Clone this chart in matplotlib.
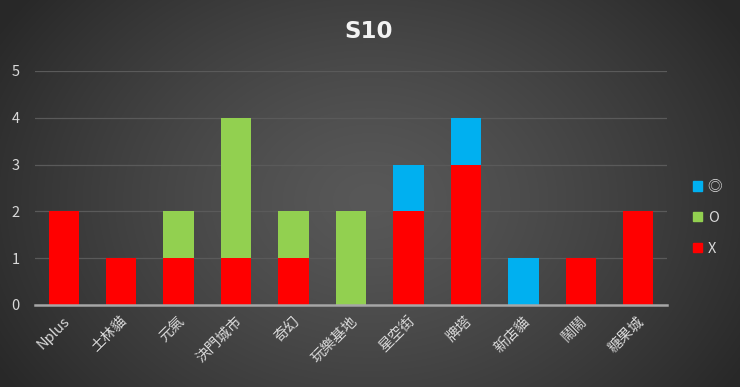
import numpy as np
import matplotlib
matplotlib.use("Agg")
import matplotlib.pyplot as plt
from matplotlib.patches import Patch

plt.rcParams['font.family'] = ['Noto Sans CJK TC', 'DejaVu Sans']

categories = ["Nplus", "土林貓", "元氣", "決門城市", "奇幻", "玩樂基地",
              "星空街", "牌塔", "新店貓", "鬧鬧", "糖果城"]
x_vals = [2, 1, 1, 1, 1, 0, 2, 3, 0, 1, 2]
o_vals = [0, 0, 1, 3, 1, 2, 0, 0, 0, 0, 0]
dbl_vals = [0, 0, 0, 0, 0, 0, 1, 1, 1, 0, 0]
series_names = ["X", "O", "◎"]
colors = ["#FF0000", "#92D050", "#00B0F0"]
title = "S10"

W, H = 740, 387
fig = plt.figure(figsize=(W / 100, H / 100), dpi=100)

# radial gradient background
bg = fig.add_axes([0, 0, 1, 1], zorder=-10)
yy, xx = np.mgrid[0:H, 0:W]
cx, cy = 370, 200
r = np.sqrt(((xx - cx) / 430.0) ** 2 + ((yy - cy) / 330.0) ** 2)
r = np.clip(r, 0, 1)
val = 0.345 - (0.345 - 0.16) * r ** 1.3
img = np.dstack([val, val, val])
bg.imshow(img, aspect='auto', extent=[0, 1, 0, 1], origin='upper')
bg.axis('off')

ax = fig.add_axes([35 / W, 1 - 305 / H, (667 - 35) / W, (305 - 71) / H])
ax.set_facecolor('none')

idx = np.arange(len(categories))
bw = 0.53
ax.bar(idx, x_vals, bw, color=colors[0], zorder=3)
ax.bar(idx, o_vals, bw, bottom=x_vals, color=colors[1], zorder=3)
bottom2 = np.array(x_vals) + np.array(o_vals)
ax.bar(idx, dbl_vals, bw, bottom=bottom2, color=colors[2], zorder=3)

ax.set_xlim(-0.5, len(categories) - 0.5)
ax.set_ylim(0, 5)
ax.set_yticks(range(0, 6))
ax.yaxis.grid(True, color='#5a5a5a', linewidth=0.9, zorder=0)
ax.set_axisbelow(True)
for s in ['top', 'right', 'left']:
    ax.spines[s].set_visible(False)
ax.spines['bottom'].set_color('#a6a6a6')
ax.spines['bottom'].set_linewidth(1.8)
ax.spines['bottom'].set_zorder(4)
ax.tick_params(axis='both', length=0, colors='#d9d9d9', labelsize=10.5)
ax.tick_params(axis='y', pad=11)
ax.set_xticks(idx)
ax.set_xticklabels(categories, rotation=45, ha='right', va='top',
                   rotation_mode='anchor', color='#d9d9d9', fontsize=10.5)
for lbl in ax.get_xticklabels():
    lbl.set_transform(lbl.get_transform() + matplotlib.transforms.ScaledTranslation(-1 / 100, -4 / 100, fig.dpi_scale_trans))

fig.text(369 / W, 1 - 32 / H, title, ha='center', va='center', fontsize=16.5,
         fontweight='bold', color='#f2f2f2', family='DejaVu Sans')

handles = [Patch(color=colors[2]), Patch(color=colors[1]), Patch(color=colors[0])]
labels = [series_names[2], series_names[1], series_names[0]]
fig.legend(handles, labels, loc='center left', bbox_to_anchor=(680 / W, 1 - 218 / H),
           frameon=False, handlelength=0.6, handleheight=0.6, handletextpad=0.4,
           labelspacing=1.15, fontsize=10.5, labelcolor='#d9d9d9')

fig.savefig("out.png", dpi=100)
